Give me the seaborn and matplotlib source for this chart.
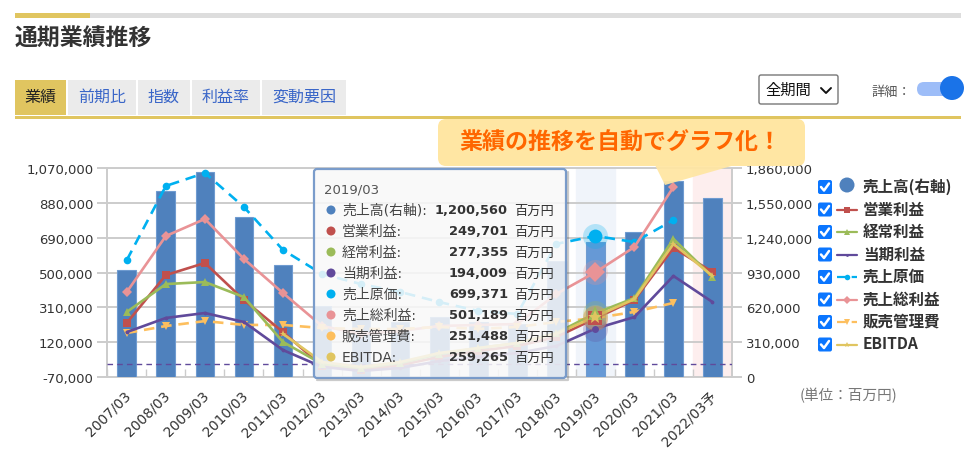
import numpy as np
import pandas as pd
import matplotlib.pyplot as plt
from matplotlib.patches import FancyBboxPatch, Polygon, Rectangle, Circle
from matplotlib.transforms import ScaledTranslation
import seaborn as sns

years = ['2007/03', '2008/03', '2009/03', '2010/03', '2011/03', '2012/03', '2013/03', '2014/03',
         '2015/03', '2016/03', '2017/03', '2018/03', '2019/03', '2020/03', '2021/03', '2022/03予']

sales = [952000, 1655000, 1825000, 1424000, 997000, 632000, 516000, 490000,
         534000, 490000, 472000, 1032000, 1200560, 1290000, 1744000, 1593000]
operating = [225000, 486000, 552000, 350000, 175000, -10000, -32000, -5000,
             39000, 72000, 99000, 148000, 249701, 350000, 634000, 503000]
ordinary = [285000, 437000, 448000, 366000, 121000, 1000, -21000, 6000,
            55000, 88000, 115000, 170000, 277355, 361000, 683000, 476000]
net = [175000, 252000, 279000, 230000, 77000, -15000, -37000, -21000,
       17000, 39000, 61000, 99000, 194009, 257000, 481000, 339000]
cost = [568000, 972000, 1043000, 857000, 623000, 492000, 437000, 394000,
        339000, 290000, 274000, 656000, 699371, 666000, 786000, np.nan]
gross = [394000, 699000, 792000, 574000, 388000, 208000, 165000, 181000,
         208000, 214000, 219000, 383000, 501189, 639000, 966000, np.nan]
sga = [170000, 208000, 235000, 214000, 214000, 197000, 192000, 192000,
       203000, 192000, 203000, 230000, 251488, 285000, 334000, np.nan]
ebitda = [np.nan, np.nan, np.nan, np.nan, 165000, 12000, -15000, 12000,
          61000, 88000, 115000, 165000, 259265, 355000, 656000, 481000]

left_ticks = [-70000, 120000, 310000, 500000, 690000, 880000, 1070000]
right_ticks = [0, 310000, 620000, 930000, 1240000, 1550000, 1860000]

tabs = ['業績', '前期比', '指数', '利益率', '変動要因']
tab_edges = [(15, 66), (68, 136), (138, 190), (192, 260), (262, 346)]

tip_rows = [('売上高(右軸):', '1,200,560', '#4f81bd'), ('営業利益:', '249,701', '#c0504d'),
            ('経常利益:', '277,355', '#9bbb59'), ('当期利益:', '194,009', '#604a9b'),
            ('売上原価:', '699,371', '#00b0f0'), ('売上総利益:', '501,189', '#e99396'),
            ('販売管理費:', '251,488', '#fdbf5e'), ('EBITDA:', '259,265', '#e0c560')]

W, H = 971, 456
GOLD = '#e0c560'
GRID = '#cccccc'

sns.set_theme(style='white')
plt.rcParams['font.family'] = ['DejaVu Sans', 'Noto Sans CJK JP']

fig = plt.figure(figsize=(W / 100, H / 100), dpi=100)
L, R, T, B = 107.3, 732, 169, 378
rect = [L / W, 1 - B / H, (R - L) / W, (B - T) / H]

# bars sit on the right axis, lines on the left one
ax_bar = fig.add_axes(rect)
df = pd.DataFrame({'year': years, 'sales': sales})
bar_colors = ['#6699d6' if y == '2019/03' else '#4f81bd' for y in years]
sns.barplot(data=df, x='year', y='sales', hue='year', palette=bar_colors, legend=False, width=0.48,
            saturation=1, edgecolor='#6f9bd0', linewidth=0.8, ax=ax_bar, zorder=3)
ax_line = ax_bar.twinx()
ax_bar.set_xlim(-0.5, len(years) - 0.5)
ax_bar.set_ylim(right_ticks[0], right_ticks[-1])
ax_bar.set_xlabel('')
ax_bar.set_ylabel('')
ax_bar.axvspan(years.index('2019/03') - 0.5, years.index('2019/03') + 0.5, color='#f0f4fa', zorder=0)
ax_bar.axvspan(years.index('2022/03予') - 0.5, years.index('2022/03予') + 0.5, color='#fdeeee', zorder=0)
ax_bar.yaxis.tick_right()
ax_bar.set_yticks(right_ticks)
ax_bar.set_yticklabels([f'{v:,}' for v in right_ticks], fontsize=9.5, color='#333333')
ax_bar.grid(axis='y', color=GRID, lw=1.4, zorder=1)
ax_bar.tick_params(axis='y', length=7, width=1.4, color=GRID, pad=3)
ax_bar.set_xticks(np.arange(len(years)) - 0.5, minor=True)
ax_bar.tick_params(axis='x', which='minor', direction='in', length=6, width=1, color=GRID, bottom=True)
ax_bar.set_xticks(range(len(years)))
ax_bar.set_xticklabels(years, rotation=45, ha='right', rotation_mode='anchor', fontsize=10, color='#333333')
ax_bar.tick_params(axis='x', which='major', length=0, pad=8)
shift = ScaledTranslation(-3 / 100, 0, fig.dpi_scale_trans)
for lab in ax_bar.get_xticklabels():
    lab.set_transform(lab.get_transform() + shift)
for s in ax_bar.spines.values():
    s.set_color(GRID)
    s.set_linewidth(1.4)

ax_line.patch.set_visible(False)
ax_line.set_ylim(left_ticks[0], left_ticks[-1])
ax_line.yaxis.tick_left()
ax_line.set_yticks(left_ticks)
ax_line.set_yticklabels([f'{v:,}' for v in left_ticks], fontsize=9.5, color='#333333')
ax_line.tick_params(axis='y', length=7, width=1.4, color=GRID, pad=3)
for s in ax_line.spines.values():
    s.set_visible(False)
ax_line.axhline(0, color='#604a9b', lw=1, ls=(0, (4, 3)), zorder=1)

pos = np.arange(len(years))
series = [
    ('売上原価', cost, '#00b0f0', 'o', (4, 2.6)),
    ('売上総利益', gross, '#e99396', 'D', None),
    ('販売管理費', sga, '#fdbf5e', 'v', (4, 2.6)),
    ('営業利益', operating, '#c0504d', 's', None),
    ('当期利益', net, '#604a9b', '.', None),
    ('経常利益', ordinary, '#9bbb59', '^', None),
    ('EBITDA', ebitda, GOLD, '*', None),
]
hi = years.index('2019/03')
for name, vals, col, mk, dash in series:
    d = pd.DataFrame({'pos': pos, 'val': vals})
    kw = {'linestyle': (0, dash)} if dash else {}
    sns.lineplot(data=d, x='pos', y='val', color=col, lw=1.9, marker=mk, markersize=5.5, markeredgewidth=0,
                 estimator=None, sort=False, ax=ax_line, zorder=5, **kw)
    ax_line.plot(hi, vals[hi], 'o', ms=18, color=col, alpha=0.25, mew=0, zorder=6)
    ax_line.plot(hi, vals[hi], mk, ms=10, color=col, mew=0, zorder=7)
ax_line.set_xlabel('')
ax_line.set_ylabel('')
ax_bar.set_xlim(-0.5, len(years) - 0.5)

# everything around the chart is laid out in pixels
ui = fig.add_axes([0, 0, 1, 1], zorder=10)
ui.set_xlim(0, W)
ui.set_ylim(H, 0)
ui.axis('off')
ui.patch.set_visible(False)

ui.add_patch(Rectangle((15, 14), 946, 5, color='#dddddd', lw=0))
ui.add_patch(Rectangle((15, 14), 75, 5, color=GOLD, lw=0))
ui.text(15, 38, '通期業績推移', fontsize=16.5, fontweight='bold', color='#333333', va='center',
        family='Noto Sans CJK JP')

for i, (tab, (x0, x1)) in enumerate(zip(tabs, tab_edges)):
    ui.add_patch(Rectangle((x0, 81), x1 - x0, 35, color=GOLD if i == 0 else '#ebebeb', lw=0))
    ui.text((x0 + x1) / 2, 97.5, tab, fontsize=11.5, ha='center', va='center', family='Noto Sans CJK JP',
            color='#222222' if i == 0 else '#3a66c8')
ui.add_patch(Rectangle((15, 117), 946, 3, color=GOLD, lw=0))

ui.add_patch(FancyBboxPatch((759, 76), 79, 29, boxstyle='round,pad=0,rounding_size=2', fc='white', ec='#777777', lw=1))
ui.text(765, 90.5, '全期間', fontsize=11, va='center', color='#111111', family='Noto Sans CJK JP')
ui.plot([821, 826, 831], [89, 94, 89], color='#111111', lw=1.4)
ui.text(872, 92, '詳細：', fontsize=9.5, va='center', color='#555555', family='Noto Sans CJK JP')
ui.add_patch(FancyBboxPatch((917, 83), 38, 14, boxstyle='round,pad=0,rounding_size=7', fc='#9dbdf8', ec='none'))
ui.add_patch(Circle((952, 89), 12, fc='#1a73e8', ec='none'))

# callout
ui.add_patch(Polygon([(655, 166), (665, 186), (735, 166)], fc='#ffe6a3', ec='none', alpha=0.95))
ui.add_patch(FancyBboxPatch((438, 120), 367, 47, boxstyle='round,pad=0,rounding_size=8', fc='#ffe6a3', ec='none'))
ui.text(620, 143, '業績の推移を自動でグラフ化！', fontsize=16.6, fontweight='bold', color='#ff6600', ha='center', va='center',
        family='Noto Sans CJK JP')

# tooltip, the shadow is only a soft edge so the chart still shows through
ui.plot([317, 568, 568], [381, 381, 173], color='#555555', alpha=0.3, lw=1.6)
ui.add_patch(FancyBboxPatch((314, 170), 252, 209, boxstyle='round,pad=0,rounding_size=3', fc=(0.975, 0.975, 0.975, 0.86), ec='#7a9ccb', lw=1.6))
ui.text(324, 190, years[hi], fontsize=9.5, va='center', color='#555555')
for i, (label, val, col) in enumerate(tip_rows):
    y = 211 + i * 21
    ui.add_patch(Circle((331, y), 4.5, fc=col, ec='none'))
    ui.text(342, y, label, fontsize=10, va='center', color='#444444', family=['DejaVu Sans', 'Noto Sans CJK JP'])
    ui.text(508, y, val, fontsize=9.4, fontweight='bold', ha='right', va='center', color='#333333')
    ui.text(514, y, '百万円', fontsize=9.5, va='center', color='#333333', family='Noto Sans CJK JP')

# legend with the check boxes
legend_rows = [('売上高(右軸)', '#4f81bd', None, None), ('営業利益', '#c0504d', 's', None), ('経常利益', '#9bbb59', '^', None),
               ('当期利益', '#604a9b', '.', None), ('売上原価', '#00b0f0', 'o', (4, 2.6)), ('売上総利益', '#e99396', 'D', None),
               ('販売管理費', '#fdbf5e', 'v', (4, 2.6)), ('EBITDA', GOLD, '*', None)]
for i, (label, col, mk, dash) in enumerate(legend_rows):
    y = 188 + i * 22.5
    ui.add_patch(FancyBboxPatch((818, y - 7), 14, 14, boxstyle='round,pad=0,rounding_size=2', fc='#0b76ff', ec='none'))
    ui.plot([821, 824, 829], [y, y + 3.5, y - 3.5], color='white', lw=1.8)
    if mk is None:
        ui.add_patch(Circle((847, y - 2), 7.5, fc=col, ec='none'))
    else:
        ui.plot([837, 857], [y, y], color=col, lw=1.6, ls=(0, dash) if dash else '-')
        ui.plot([847], [y], mk, color=col, ms=4, mew=0)
    ui.text(863, y - 1, label, fontsize=11.2, fontweight='bold', va='center', color='#333333', family='Noto Sans CJK JP')

ui.text(800, 396, '(単位：百万円)', fontsize=10.5, va='center', color='#777777', family='Noto Sans CJK JP')

fig.savefig('out.png', dpi=100)
